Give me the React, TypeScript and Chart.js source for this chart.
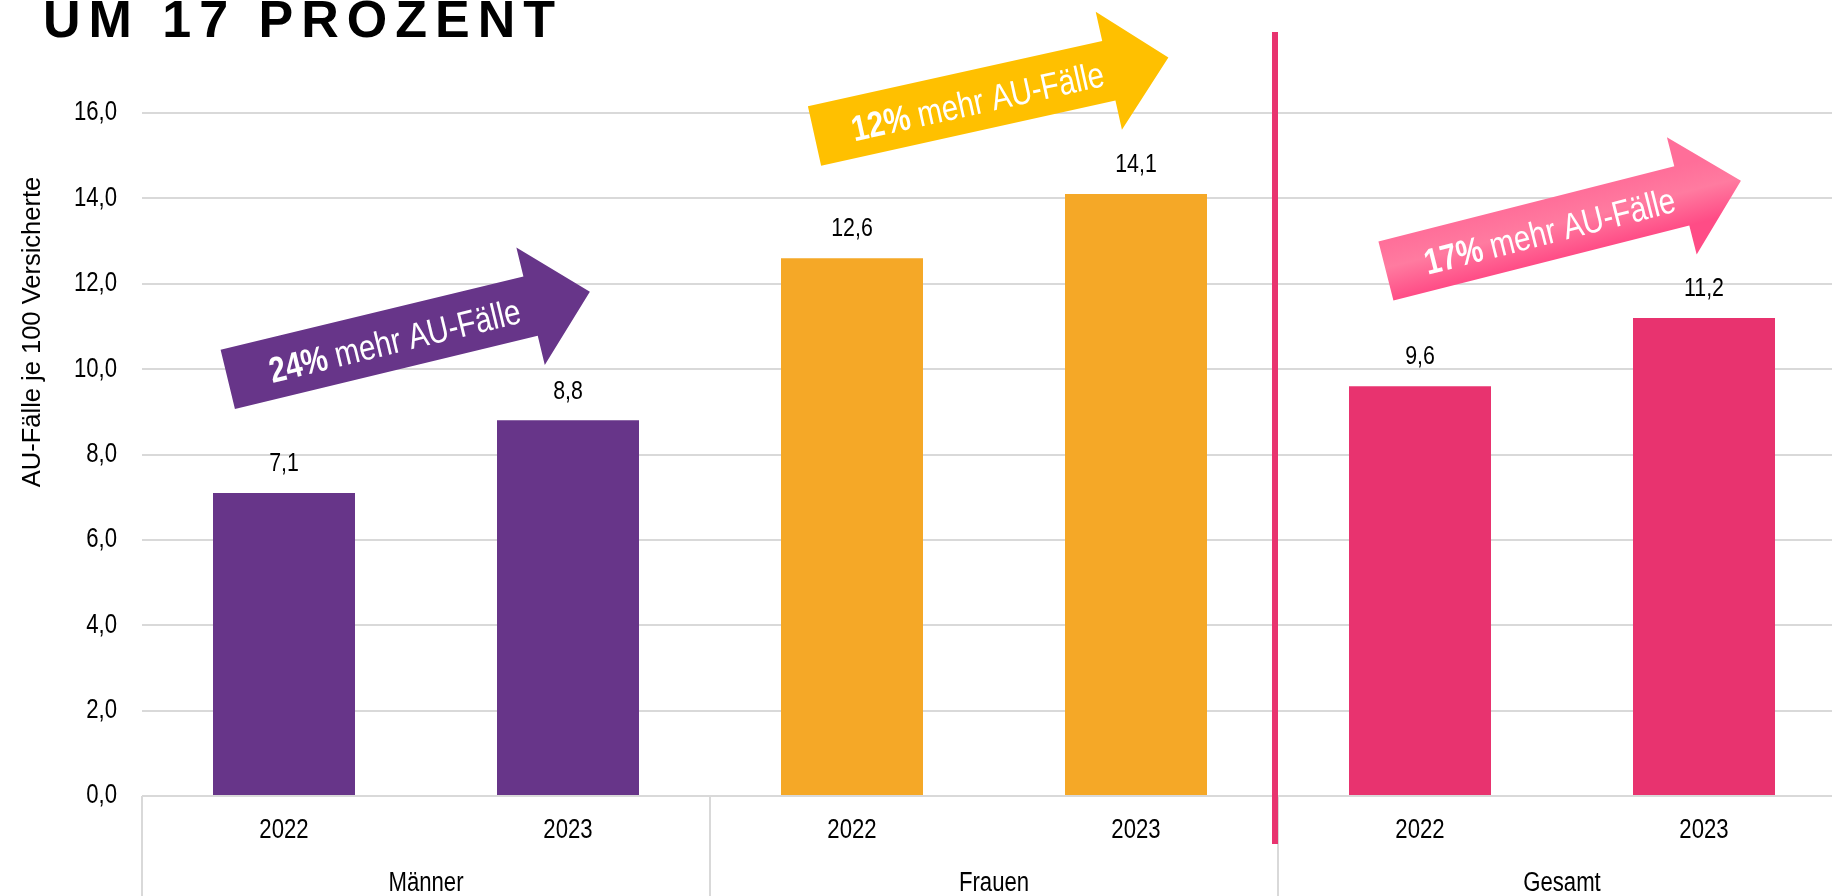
import React, { useEffect, useRef } from 'react';
import { Chart, registerables } from 'chart.js';

Chart.register(...registerables);

// ---- data ----
const categories = ['2022', '2023', '2022', '2023', '2022', '2023'];
const groups = ['Männer', 'Frauen', 'Gesamt'];
const values = [7.1, 8.8, 12.6, 14.1, 9.6, 11.2];
const barColors = ['#673589', '#673589', '#F5A827', '#F5A827', '#E8336F', '#E8336F'];
const yMin = 0;
const yMax = 16;
const yStep = 2;
const yAxisTitle = 'AU-Fälle je 100 Versicherte';
const titleText = 'UM 17 PROZENT';

// arrow annotations (anchors in category-index / value units)
const arrowBold = ['24%', '12%', '17%'];
const arrowRest = ' mehr AU-Fälle';
const arrowTail = [[-0.198, 9.76], [1.868, 15.46], [3.88, 12.3]];
const arrowTip = [[1.077, 11.81], [3.114, 17.3], [5.13, 14.41]];
const arrowColors = ['#673589', '#FFC000', 'pinkGradient'];

const FONT = "'Liberation Sans', Arial, sans-serif";
const NARROW = 0.82;
const fmt = (v: number) => v.toFixed(1).replace('.', ',');

function narrowText(
  ctx: CanvasRenderingContext2D,
  text: string,
  x: number,
  y: number,
  size: number,
  align: CanvasTextAlign,
  bold = false,
  sx = NARROW
) {
  ctx.save();
  ctx.translate(x, y);
  ctx.scale(sx, 1);
  ctx.font = `${bold ? 'bold ' : ''}${size}px ${FONT}`;
  ctx.textAlign = align;
  ctx.textBaseline = 'middle';
  ctx.fillText(text, 0, 0);
  ctx.restore();
}

const annotationPlugin = {
  id: 'annotations',
  afterDraw(chart: any) {
    const { ctx, chartArea, scales } = chart;
    const xs = scales.x;
    const ys = scales.y;
    const H = chart.height;
    ctx.save();

    // title
    ctx.fillStyle = '#000';
    ctx.font = `bold 52px ${FONT}`;
    (ctx as any).letterSpacing = '8px';
    ctx.textAlign = 'left';
    ctx.textBaseline = 'alphabetic';
    ctx.fillText(titleText, 43, 37);
    (ctx as any).letterSpacing = '0px';

    // y axis title
    ctx.save();
    ctx.translate(33, 332);
    ctx.rotate(-Math.PI / 2);
    ctx.fillStyle = '#000';
    narrowText(ctx, yAxisTitle, 0, 0, 25.5, 'center', false, 1);
    ctx.restore();

    // y tick labels
    ctx.fillStyle = '#000';
    ys.ticks.forEach((t: any) => {
      narrowText(ctx, fmt(t.value), chartArea.left - 25, ys.getPixelForValue(t.value), 27, 'right');
    });

    // x tick labels
    categories.forEach((c, i) => {
      narrowText(ctx, c, xs.getPixelForValue(i), chartArea.bottom + 35, 27, 'center');
    });

    // group separators
    ctx.strokeStyle = '#d9d9d9';
    ctx.lineWidth = 2;
    for (let g = 0; g <= groups.length; g++) {
      const x = Math.round(xs.getPixelForValue(g * 2 - 0.5));
      ctx.beginPath();
      ctx.moveTo(x, chartArea.bottom);
      ctx.lineTo(x, H);
      ctx.stroke();
    }
    // group labels
    groups.forEach((g, i) => {
      narrowText(ctx, g, xs.getPixelForValue(i * 2 + 0.5), chartArea.bottom + 88, 27, 'center');
    });

    // data labels
    const meta = chart.getDatasetMeta(0);
    meta.data.forEach((bar: any, i: number) => {
      narrowText(ctx, fmt(values[i]), bar.x, bar.y - 29, 26, 'center');
    });

    // magenta divider
    const dx = xs.getPixelForValue(3.5) - 3;
    ctx.fillStyle = '#E8336F';
    ctx.fillRect(dx - 3, chartArea.top - 81, 6, chartArea.bottom - chartArea.top + 81 + 48);

    // arrows
    arrowTail.forEach((t, i) => {
      const x0 = xs.getPixelForValue(t[0]);
      const y0 = ys.getPixelForValue(t[1]);
      const x1 = xs.getPixelForValue(arrowTip[i][0]);
      const y1 = ys.getPixelForValue(arrowTip[i][1]);
      const len = Math.hypot(x1 - x0, y1 - y0);
      const ang = Math.atan2(y1 - y0, x1 - x0);
      const sw = 61, hw = 121, hl = 61;
      ctx.save();
      ctx.translate(x0, y0);
      ctx.rotate(ang);
      ctx.beginPath();
      ctx.moveTo(0, -sw / 2);
      ctx.lineTo(len - hl, -sw / 2);
      ctx.lineTo(len - hl, -hw / 2);
      ctx.lineTo(len, 0);
      ctx.lineTo(len - hl, hw / 2);
      ctx.lineTo(len - hl, sw / 2);
      ctx.lineTo(0, sw / 2);
      ctx.closePath();
      if (arrowColors[i] === 'pinkGradient') {
        const gr = ctx.createLinearGradient(0, -sw / 2, 0, sw / 2);
        gr.addColorStop(0, '#FF6E99');
        gr.addColorStop(0.45, '#FF7BA0');
        gr.addColorStop(1, '#FF4C86');
        ctx.fillStyle = gr;
      } else {
        ctx.fillStyle = arrowColors[i];
      }
      ctx.fill();
      // text
      ctx.fillStyle = '#fff';
      ctx.font = `bold 36px ${FONT}`;
      const wb = ctx.measureText(arrowBold[i]).width * NARROW;
      ctx.font = `36px ${FONT}`;
      const wr = ctx.measureText(arrowRest).width * NARROW;
      const sx = len * 0.46 - (wb + wr) / 2;
      narrowText(ctx, arrowBold[i], sx, 4, 36, 'left', true);
      narrowText(ctx, arrowRest, sx + wb, 4, 36, 'left');
      ctx.restore();
    });

    ctx.restore();
  },
};

export default function App() {
  const ref = useRef<HTMLCanvasElement | null>(null);
  useEffect(() => {
    if (!ref.current) return;
    const chart = new Chart(ref.current, {
      type: 'bar',
      data: {
        labels: categories,
        datasets: [
          {
            data: values,
            backgroundColor: barColors,
            borderWidth: 0,
            barPercentage: 0.5,
            categoryPercentage: 1,
          },
        ],
      },
      options: {
        responsive: false,
        animation: false,
        devicePixelRatio: 1,
        layout: { padding: { top: 113, left: 0, right: 0, bottom: 0 } },
        plugins: {
          legend: { display: false },
          tooltip: { enabled: false },
          title: { display: false },
        },
        scales: {
          x: {
            type: 'category',
            offset: true,
            grid: { display: false },
            border: { display: false },
            ticks: { display: false, autoSkip: false },
            afterFit: (s: any) => {
              s.height = 104;
            },
          },
          y: {
            min: yMin,
            max: yMax,
            ticks: {
              display: false,
              stepSize: yStep,
            },
            grid: { color: '#d9d9d9', lineWidth: 2, drawTicks: false },
            border: { display: false },
            afterFit: (s: any) => {
              s.width = 142;
            },
          },
        },
      },
      plugins: [annotationPlugin],
    });
    return () => chart.destroy();
  }, []);
  return (
    <div
      style={{
        position: 'fixed',
        left: 0,
        top: 0,
        width: 1832,
        height: 896,
        overflow: 'hidden',
        background: '#fff',
      }}
    >
      <canvas ref={ref} width={1846} height={900} style={{ display: 'block' }} />
    </div>
  );
}
